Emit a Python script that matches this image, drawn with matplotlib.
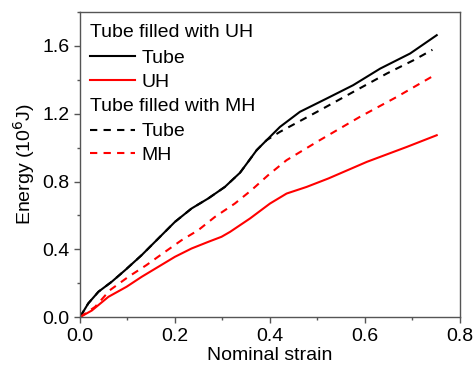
import matplotlib
matplotlib.use('Agg')
import matplotlib.pyplot as plt
from matplotlib.ticker import MultipleLocator

plt.rcParams['font.family'] = ['Liberation Sans', 'DejaVu Sans']
plt.rcParams['font.size'] = 14

# Tube filled with UH: tube curve
strain_tube_uh = [0, 0.0175, 0.039, 0.067, 0.095, 0.13, 0.165, 0.2, 0.235, 0.27, 0.305,
                  0.337, 0.355, 0.372, 0.393, 0.421, 0.463, 0.519, 0.575, 0.632, 0.695, 0.751]
energy_tube_uh = [0, 0.081, 0.150, 0.209, 0.277, 0.366, 0.464, 0.562, 0.641, 0.700, 0.768,
                  0.852, 0.920, 0.985, 1.044, 1.122, 1.211, 1.289, 1.368, 1.466, 1.555, 1.663]

# Tube filled with UH: filler curve
strain_uh = [0, 0.025, 0.060, 0.098, 0.130, 0.165, 0.2, 0.235, 0.270, 0.298, 0.316,
             0.358, 0.400, 0.435, 0.477, 0.523, 0.604, 0.688, 0.751]
energy_uh = [0, 0.039, 0.120, 0.179, 0.238, 0.297, 0.356, 0.405, 0.444, 0.474, 0.503,
             0.582, 0.670, 0.729, 0.768, 0.818, 0.916, 1.004, 1.073]

# Tube filled with MH: tube curve
strain_tube_mh = [0, 0.0175, 0.039, 0.067, 0.095, 0.13, 0.165, 0.2, 0.235, 0.27, 0.305,
                  0.337, 0.355, 0.372, 0.393, 0.421, 0.505, 0.575, 0.646, 0.702, 0.742]
energy_tube_mh = [0, 0.081, 0.150, 0.209, 0.277, 0.366, 0.464, 0.562, 0.641, 0.700, 0.768,
                  0.852, 0.920, 0.985, 1.044, 1.093, 1.220, 1.328, 1.437, 1.515, 1.577]

# Tube filled with MH: filler curve
strain_mh = [0, 0.032, 0.063, 0.102, 0.140, 0.179, 0.214, 0.249, 0.284, 0.326, 0.361,
             0.396, 0.435, 0.505, 0.589, 0.667, 0.745]
energy_mh = [0, 0.061, 0.159, 0.238, 0.307, 0.385, 0.454, 0.513, 0.591, 0.670, 0.749,
             0.837, 0.926, 1.044, 1.181, 1.299, 1.425]

fig = plt.figure(figsize=(4.73, 3.74), dpi=100)
ax = fig.add_axes([0.169, 0.152, 0.8035, 0.816])

l1, = ax.plot(strain_tube_uh, energy_tube_uh, color='black', lw=1.5, label='Tube')
l2, = ax.plot(strain_uh, energy_uh, color='red', lw=1.5, label='UH')
l3, = ax.plot(strain_tube_mh, energy_tube_mh, color='black', lw=1.5,
              linestyle=(0, (3.5, 3)), label='Tube')
l4, = ax.plot(strain_mh, energy_mh, color='red', lw=1.5,
              linestyle=(0, (3.5, 3)), label='MH')

ax.set_xlim(0, 0.8)
ax.set_ylim(0, 1.8)
ax.xaxis.set_minor_locator(MultipleLocator(0.1))
ax.yaxis.set_minor_locator(MultipleLocator(0.2))
ax.set_xticks([0, 0.2, 0.4, 0.6, 0.8])
ax.set_xticklabels(['0.0', '0.2', '0.4', '0.6', '0.8'])
ax.set_yticks([0, 0.4, 0.8, 1.2, 1.6])
ax.set_yticklabels(['0.0', '0.4', '0.8', '1.2', '1.6'])
ax.tick_params(which='major', direction='out', length=4, width=1, color='#555555')
ax.tick_params(which='minor', direction='out', length=2.5, width=1, color='#555555')
for s in ax.spines.values():
    s.set_color('#555555')
    s.set_linewidth(1)

ax.set_xlabel('Nominal strain', labelpad=2)
ax.set_ylabel('Energy (10$^{6}$J)', labelpad=4)

# legend group headers
ax.text(0.026, 0.932, 'Tube filled with UH', transform=ax.transAxes, va='center', ha='left')
ax.text(0.026, 0.689, 'Tube filled with MH', transform=ax.transAxes, va='center', ha='left')

leg_kw = dict(loc='upper left', frameon=False, borderpad=0, borderaxespad=0,
              handlelength=2.3, handletextpad=0.35, labelspacing=0.31, fontsize=14)
leg1 = ax.legend(handles=[l1, l2], bbox_to_anchor=(0.026, 0.877), **leg_kw)
ax.add_artist(leg1)
ax.legend(handles=[l3, l4], bbox_to_anchor=(0.026, 0.637), **leg_kw)

plt.savefig('out.png', dpi=100)
